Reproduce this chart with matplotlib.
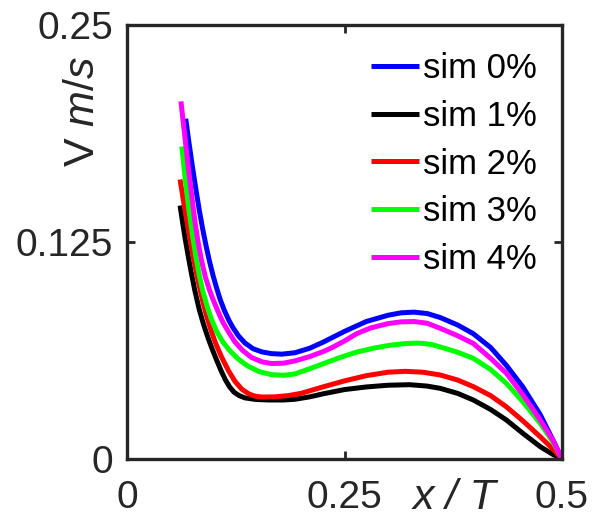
import matplotlib
matplotlib.use('Agg')
import matplotlib.pyplot as plt

# ---- data ----
x_blue = [0.0675, 0.071, 0.075, 0.079, 0.083, 0.087, 0.091, 0.095, 0.099, 0.103, 0.107, 0.112,
          0.117, 0.122, 0.128, 0.1356, 0.145, 0.155, 0.166, 0.178, 0.193, 0.21, 0.225, 0.25,
          0.275, 0.30, 0.315, 0.33, 0.345, 0.36, 0.38, 0.398, 0.418, 0.436, 0.455, 0.475, 0.49, 0.50]
y_blue = [0.196, 0.183, 0.169, 0.156, 0.1435, 0.1325, 0.1225, 0.1135, 0.1055, 0.0985, 0.092, 0.0855,
          0.080, 0.0755, 0.071, 0.0668, 0.0635, 0.0617, 0.0607, 0.0604, 0.0612, 0.0638, 0.0672, 0.0735,
          0.0792, 0.0828, 0.0842, 0.0846, 0.0838, 0.0815, 0.0772, 0.0722, 0.0642, 0.054, 0.0415, 0.0255, 0.0105, 0.0]

x_mag = [0.062, 0.066, 0.070, 0.074, 0.078, 0.082, 0.086, 0.090, 0.095, 0.100, 0.105, 0.110,
         0.117, 0.124, 0.133, 0.143, 0.155, 0.166, 0.18, 0.193, 0.21, 0.225, 0.235, 0.25,
         0.264, 0.28, 0.30, 0.315, 0.33, 0.345, 0.36, 0.38, 0.398, 0.418, 0.436, 0.455, 0.475, 0.49, 0.50]
y_mag = [0.206, 0.188, 0.170, 0.153, 0.137, 0.124, 0.1135, 0.105, 0.097, 0.0905, 0.0845, 0.079,
         0.073, 0.0675, 0.0625, 0.0585, 0.056, 0.055, 0.0552, 0.0565, 0.059, 0.0618, 0.064, 0.068,
         0.0722, 0.0755, 0.078, 0.079, 0.0792, 0.0782, 0.0753, 0.071, 0.0666, 0.058, 0.0494, 0.037, 0.0225, 0.0105, 0.0]

x_green = [0.063, 0.067, 0.071, 0.075, 0.079, 0.083, 0.087, 0.092, 0.097, 0.103, 0.110, 0.118,
           0.128, 0.139, 0.152, 0.166, 0.18, 0.193, 0.21, 0.225, 0.245, 0.264, 0.285, 0.302,
           0.32, 0.335, 0.35, 0.365, 0.38, 0.398, 0.418, 0.436, 0.455, 0.475, 0.49, 0.50]
y_green = [0.180, 0.161, 0.144, 0.130, 0.117, 0.106, 0.097, 0.088, 0.0805, 0.0735, 0.0675, 0.0625,
           0.0575, 0.0535, 0.0503, 0.0486, 0.0482, 0.049, 0.052, 0.0548, 0.0585, 0.0616, 0.064, 0.0655,
           0.0665, 0.0668, 0.066, 0.0638, 0.0615, 0.058, 0.0515, 0.0436, 0.033, 0.0205, 0.0095, 0.0]

x_red = [0.061, 0.065, 0.069, 0.073, 0.077, 0.082, 0.087, 0.092, 0.097, 0.102, 0.108, 0.1165,
         0.124, 0.132, 0.140, 0.1471, 0.155, 0.170, 0.185, 0.20, 0.225, 0.25, 0.275, 0.30,
         0.32, 0.34, 0.36, 0.38, 0.398, 0.418, 0.436, 0.455, 0.475, 0.49, 0.50]
y_red = [0.161, 0.1485, 0.1365, 0.125, 0.1142, 0.102, 0.091, 0.0815, 0.0735, 0.0665, 0.0595, 0.051,
         0.0448, 0.0402, 0.0375, 0.0362, 0.0357, 0.0358, 0.0365, 0.0378, 0.0415, 0.045, 0.048, 0.050,
         0.0505, 0.050, 0.0484, 0.0455, 0.0417, 0.0365, 0.0301, 0.022, 0.0128, 0.0055, 0.0]

x_black = [0.061, 0.064, 0.067, 0.0705, 0.074, 0.078, 0.083, 0.088, 0.093, 0.098, 0.103, 0.108,
           0.113, 0.118, 0.123, 0.129, 0.1356, 0.148, 0.162, 0.18, 0.193, 0.21, 0.225, 0.25,
           0.275, 0.30, 0.325, 0.345, 0.36, 0.38, 0.398, 0.418, 0.436, 0.455, 0.475, 0.49, 0.50]
y_black = [0.146, 0.136, 0.1265, 0.1165, 0.107, 0.097, 0.0862, 0.0775, 0.070, 0.0632, 0.057, 0.051,
           0.0457, 0.0415, 0.0385, 0.0365, 0.0352, 0.0343, 0.034, 0.034, 0.0344, 0.0358, 0.0375, 0.040,
           0.0415, 0.0425, 0.0428, 0.042, 0.0407, 0.0378, 0.034, 0.0285, 0.0225, 0.0148, 0.0071, 0.0025, 0.0]

x_ticks = [0, 0.25, 0.5]
x_ticklabels = ['0', '0.25', '0.5']
y_ticks = [0, 0.125, 0.25]
y_ticklabels = ['0', '0.125', '0.25']

series = [
    ('sim 0%', x_blue, y_blue, '#0000ff'),
    ('sim 1%', x_black, y_black, '#000000'),
    ('sim 2%', x_red, y_red, '#ff0000'),
    ('sim 3%', x_green, y_green, '#00ff00'),
    ('sim 4%', x_mag, y_mag, '#ff00ff'),
]

plt.rcParams['font.family'] = ['Liberation Sans', 'DejaVu Sans']
plt.rcParams['mathtext.fontset'] = 'custom'
plt.rcParams['mathtext.rm'] = 'Liberation Sans'
plt.rcParams['mathtext.it'] = 'Liberation Sans:italic'

axcol = '#262626'

fig = plt.figure(figsize=(5.94, 5.24), dpi=100)
ax = fig.add_axes([127 / 594, 65 / 524, 435 / 594, 434 / 524])

for label, xs, ys, c in series:
    ax.plot(xs, ys, color=c, lw=3.6, label=label, solid_capstyle='butt',
            solid_joinstyle='round')

ax.set_xlim(0, 0.5)
ax.set_ylim(0, 0.25)
ax.set_xticks(x_ticks)
ax.set_xticklabels(x_ticklabels)
ax.set_yticks(y_ticks)
ax.set_yticklabels(y_ticklabels)
ax.tick_params(direction='in', length=6, width=2, colors=axcol, labelsize=28,
               top=True, right=True)
ax.tick_params(axis='x', pad=15)
ax.tick_params(axis='y', pad=10)
for s in ax.spines.values():
    s.set_linewidth(2.4)
    s.set_color(axcol)

ax.text(0.754, -0.09, 'x / T', transform=ax.transAxes, fontsize=31, style='italic',
        color=axcol, ha='center', va='center')
ax.text(-0.101, 0.80, r'V $\mathit{m/s}$', transform=ax.transAxes, fontsize=31,
        color=axcol, ha='center', va='center', rotation=90)

leg = ax.legend(loc='upper left', bbox_to_anchor=(0.56, 0.937), frameon=False,
                fontsize=25, handlelength=1.38, handletextpad=0.14,
                labelspacing=0.42, borderaxespad=0.0, borderpad=0.0)
for h in leg.get_lines():
    h.set_linewidth(3.6)

fig.savefig('out.png', dpi=100)
